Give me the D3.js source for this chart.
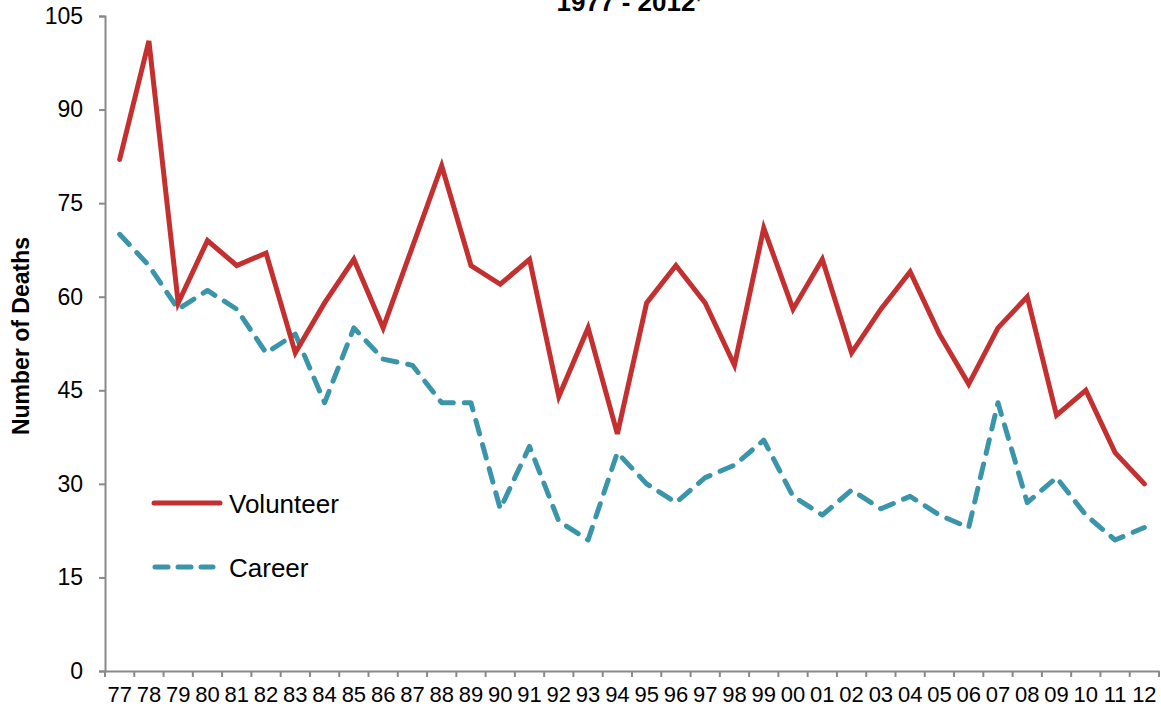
<!DOCTYPE html>
<html><head><meta charset="utf-8">
<script src="https://cdn.jsdelivr.net/npm/d3@7"></script>
<style>body{margin:0;background:#fff;} svg{display:block;font-family:"Liberation Sans",Arial,sans-serif;}</style>
</head><body>
<svg id="c" width="1161" height="715"></svg>
<script>
const years = ["77","78","79","80","81","82","83","84","85","86","87","88","89","90","91","92","93","94","95","96","97","98","99","00","01","02","03","04","05","06","07","08","09","10","11","12"];
const volunteer = [82,101,59,69,65,67,51,59,66,55,68,81,65,62,66,44,55,38,59,65,59,49,71,58,66,51,58,64,54,46,55,60,41,45,35,30];
const career = [70,65,58,61,58,51,54,43,55,50,49,43,43,26,36,24,21,35,30,27,31,33,37,28,25,29,26,28,25,23,43,27,31,25,21,23];
const yTicks = [0,15,30,45,60,75,90,105];
const seriesNames = ["Volunteer","Career"];
const colors = ["#C3302F","#3A95AA"];

(function(){
const svg = d3.select("#c");
const pL = 105, pR = 1159, pT = 16, pB = 671;
const x = d3.scaleBand().domain(years).range([pL, pR]).padding(0);
const y = d3.scaleLinear().domain([0,105]).range([pB, pT]);

// title (partially cut, as in the reference)
svg.append("text").attr("x", 626).attr("y", 11).attr("text-anchor","middle")
  .attr("font-size", 26).attr("font-weight","bold").attr("fill","#000")
  .text("1977 - 2012");
svg.append("text").attr("x", 697).attr("y", 4).attr("font-size", 8).attr("fill","#000").text("*");

// y axis
const ya = svg.append("g").attr("transform", `translate(${pL},0)`)
  .call(d3.axisLeft(y).tickValues(yTicks).tickSize(6).tickPadding(16));
ya.select(".domain").attr("stroke","#898989").attr("stroke-width",2);
ya.selectAll(".tick line").attr("stroke","#898989").attr("stroke-width",2);
ya.selectAll(".tick text").attr("font-size",23).attr("fill","#000").attr("font-family","Liberation Sans, Arial, sans-serif");

// x axis
const xa = svg.append("g").attr("transform", `translate(0,${pB})`)
  .call(d3.axisBottom(x).tickSize(0).tickPadding(15));
xa.select(".domain").attr("stroke","#898989").attr("stroke-width",2);
xa.selectAll(".tick text").attr("font-size",22).attr("fill","#000").attr("font-family","Liberation Sans, Arial, sans-serif");
const bounds = years.map(d => x(d)).concat([x(years[years.length-1]) + x.bandwidth()]);
svg.append("g").selectAll("line").data(bounds).join("line")
  .attr("x1", d => d).attr("x2", d => d).attr("y1", pB).attr("y2", pB + 6)
  .attr("stroke","#898989").attr("stroke-width",2);

// y label
svg.append("text").attr("transform","translate(29,336) rotate(-90)")
  .attr("text-anchor","middle").attr("font-size",23).attr("font-weight","bold").attr("fill","#000")
  .text("Number of Deaths");

// lines
const line = d3.line().x((d,i) => x(years[i]) + x.bandwidth()/2).y(d => y(d));
svg.append("path").datum(career).attr("d", line).attr("fill","none")
  .attr("stroke", colors[1]).attr("stroke-width",5).attr("stroke-dasharray","14,11")
  .attr("stroke-linecap","round").attr("stroke-linejoin","round");
svg.append("path").datum(volunteer).attr("d", line).attr("fill","none")
  .attr("stroke", colors[0]).attr("stroke-width",5)
  .attr("stroke-linecap","round").attr("stroke-linejoin","miter");

// legend
const lg = svg.append("g");
lg.append("line").attr("x1",154).attr("x2",220).attr("y1",503).attr("y2",503)
  .attr("stroke",colors[0]).attr("stroke-width",5).attr("stroke-linecap","round");
lg.append("text").attr("x",229).attr("y",513).attr("font-size",26).attr("fill","#000").text(seriesNames[0]);
lg.append("line").attr("x1",155).attr("x2",213).attr("y1",567).attr("y2",567)
  .attr("stroke",colors[1]).attr("stroke-width",5).attr("stroke-linecap","round").attr("stroke-dasharray","13,10");
lg.append("text").attr("x",229).attr("y",577).attr("font-size",26).attr("fill","#000").text(seriesNames[1]);
})();
</script>
</body></html>
